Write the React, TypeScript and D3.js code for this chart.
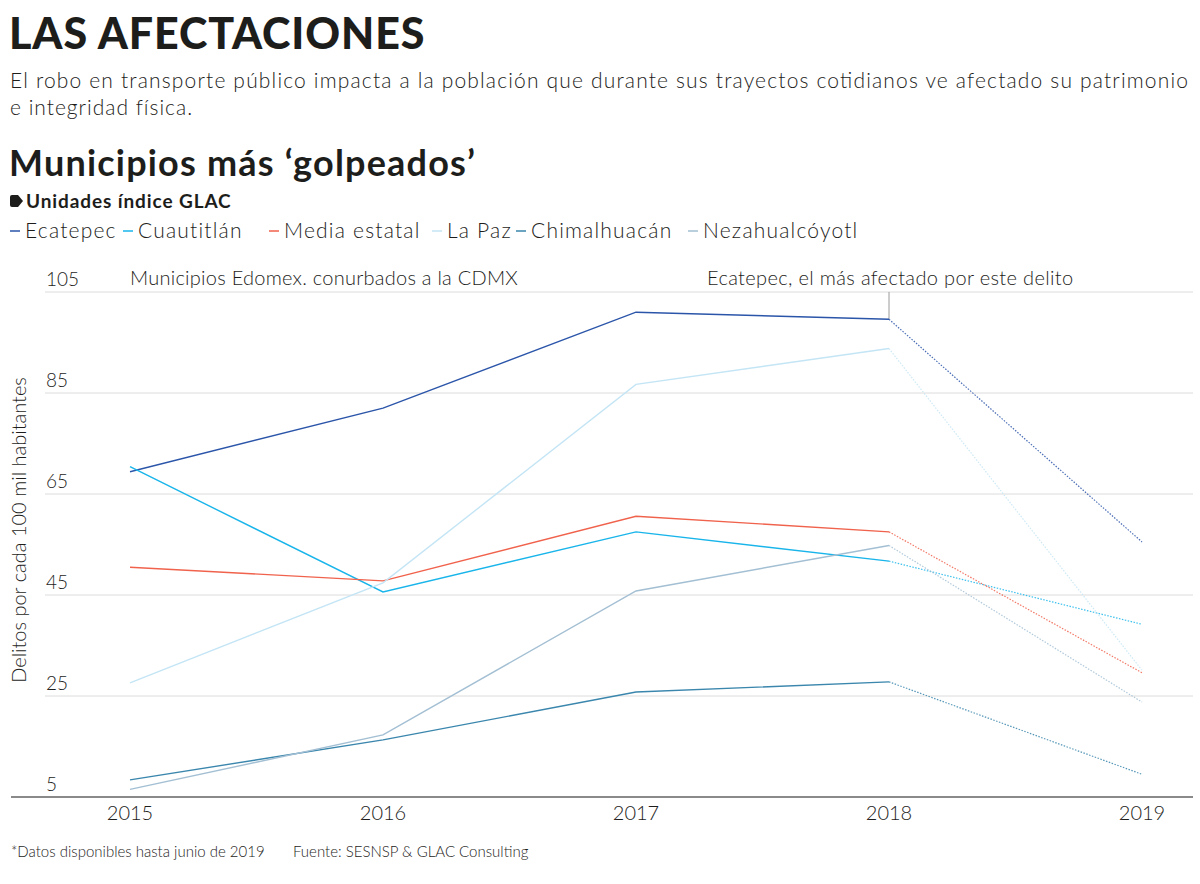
import React from "react";
import * as d3 from "d3";

const years = [2015, 2016, 2017, 2018, 2019];
const seriesNames = ["Ecatepec", "Cuautitlán", "Media estatal", "La Paz", "Chimalhuacán", "Nezahualcóyotl"];
const ecatepec = [69.4, 82.0, 101.0, 99.6, 55.5];
const cuautitlan = [70.4, 45.6, 57.5, 51.7, 39.2];
const mediaEstatal = [50.5, 47.8, 60.6, 57.5, 29.6];
const laPaz = [27.6, 47.4, 86.7, 93.8, 30.1];
const chimalhuacan = [8.4, 16.3, 25.8, 27.8, 9.5];
const nezahualcoyotl = [6.5, 17.3, 45.8, 54.8, 23.8];
const seriesColors = ["#2b55a9", "#19b5ea", "#f0624c", "#c4e5f5", "#3a86ad", "#a3bfd3"];
const yTicks = [5, 25, 45, 65, 85, 105];

const allSeries = [ecatepec, cuautitlan, mediaEstatal, laPaz, chimalhuacan, nezahualcoyotl];
const legendX = [10, 123, 269, 432, 516, 688];
const FONT = "Lato, 'Open Sans', sans-serif";

export default function App() {
  const x = d3.scalePoint<number>().domain(years).range([130, 1142]);
  const y = d3.scaleLinear().domain([5, 105]).range([797, 292]);
  const line = d3
    .line<[number, number]>()
    .x((d) => x(d[0]) as number)
    .y((d) => y(d[1]));

  return (
    <div style={{ position: "absolute", left: 0, top: 0 }}>
      <svg width={1200} height={884} style={{ display: "block", background: "#fff" }} fontFamily={FONT}>
        <text x={9} y={49} fontSize={43} fontWeight={900} fill="#1d1d1b" letterSpacing={0.9}>
          LAS AFECTACIONES
        </text>
        <text x={10} y={88} fontSize={21} fontWeight={300} fill="#1d1d1b" textLength={1178} lengthAdjust="spacing">
          El robo en transporte público impacta a la población que durante sus trayectos cotidianos ve afectado su patrimonio
        </text>
        <text x={10} y={115} fontSize={21} fontWeight={300} fill="#1d1d1b" letterSpacing={1.0}>
          e integridad física.
        </text>
        <text x={9} y={176} fontSize={36} fontWeight={700} fill="#1d1d1b" letterSpacing={1.2}>
          Municipios más ‘golpeados’
        </text>
        <path d="M12,195 h6 l5,6 l-5,6 h-6 q-2,0 -2,-2 v-8 q0,-2 2,-2 z" fill="#1d1d1b" />
        <text x={26} y={208} fontSize={19} fontWeight={700} fill="#1d1d1b" letterSpacing={0.9}>
          Unidades índice GLAC
        </text>
        {seriesNames.map((n, i) => (
          <g key={n}>
            <line x1={legendX[i]} x2={legendX[i] + 10} y1={231} y2={231} stroke={seriesColors[i]} strokeWidth={1.5} />
            <text x={legendX[i] + 15} y={238} fontSize={21} fontWeight={300} fill="#1d1d1b" letterSpacing={1.2}>
              {n}
            </text>
          </g>
        ))}

        {yTicks.map((t) => (
          <g key={t}>
            {t !== 5 && <line x1={45} x2={1193} y1={y(t)} y2={y(t)} stroke="#dcdcdc" strokeWidth={1} />}
            <text x={46} y={y(t) - 6} fontSize={19} fontWeight={300} fill="#1d1d1b">
              {t}
            </text>
          </g>
        ))}
        <line x1={11} x2={1193} y1={797} y2={797} stroke="#8a8a8a" strokeWidth={2} />

        <text
          transform={`translate(26,530) rotate(-90)`}
          textAnchor="middle"
          fontSize={20}
          fontWeight={300}
          fill="#1d1d1b"
        >
          Delitos por cada 100 mil habitantes
        </text>

        <text x={130} y={285} fontSize={20} fontWeight={300} fill="#1d1d1b" letterSpacing={0.25}>
          Municipios Edomex. conurbados a la CDMX
        </text>
        <text x={707} y={285} fontSize={20} fontWeight={300} fill="#1d1d1b" letterSpacing={0.35}>
          Ecatepec, el más afectado por este delito
        </text>
        <line x1={x(2018) as number} x2={x(2018) as number} y1={292} y2={y(ecatepec[3])} stroke="#9a9a9a" strokeWidth={1} />

        {allSeries.map((vals, i) => {
          const pts: [number, number][] = years.map((yr, j) => [yr, vals[j]]);
          return (
            <g key={i}>
              <path d={line(pts.slice(0, 4)) || ""} fill="none" stroke={seriesColors[i]} strokeWidth={1.4} />
              <path
                d={line(pts.slice(3)) || ""}
                fill="none"
                stroke={seriesColors[i]}
                strokeWidth={1.2}
                strokeDasharray="1.5,1.5"
                opacity={0.85}
              />
            </g>
          );
        })}

        {years.map((yr) => (
          <text key={yr} x={x(yr) as number} y={820} textAnchor="middle" fontSize={20} fontWeight={300} fill="#1d1d1b">
            {yr}
          </text>
        ))}

        <text x={11} y={857} fontSize={15} fontWeight={300} fill="#1d1d1b">
          *Datos disponibles hasta junio de 2019
        </text>
        <text x={293} y={857} fontSize={15} fontWeight={300} fill="#1d1d1b">
          Fuente: SESNSP &amp; GLAC Consulting
        </text>
      </svg>
    </div>
  );
}
